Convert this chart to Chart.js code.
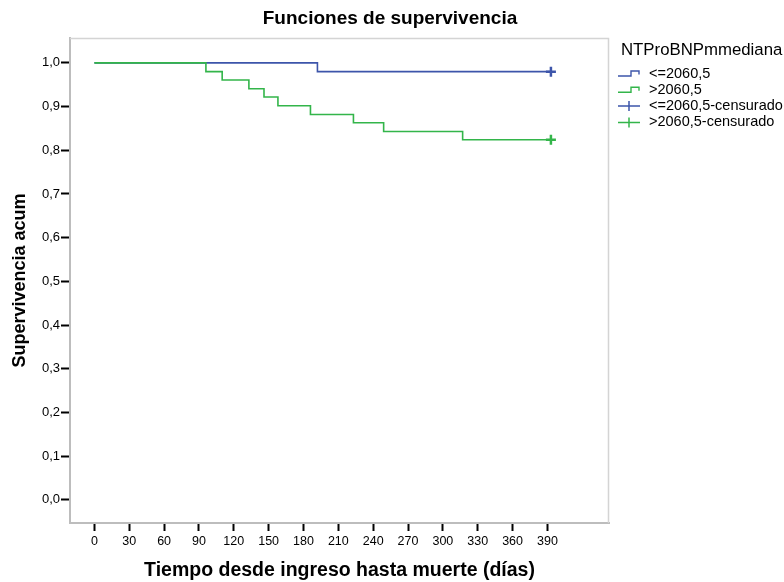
<!DOCTYPE html>
<html>
<head>
<meta charset="utf-8">
<script src="https://cdn.jsdelivr.net/npm/chart.js@4.4.1/dist/chart.umd.min.js"></script>
<style>
  html, body { margin: 0; padding: 0; background: #fff; }
  canvas { display: block; }
</style>
</head>
<body>
<canvas id="supervivencia" width="784" height="582"></canvas>
<script>
// Kaplan-Meier por grupo de NTProBNP (mediana 2060,5)
const diasBajo = [0, 192, 393];
const survBajo = [1, 0.98, 0.98];

const diasAlto = [0, 96, 110, 133, 146, 158, 186, 223, 249, 317, 393];
const survAlto = [1, 0.980, 0.961, 0.941, 0.922, 0.902, 0.882, 0.863, 0.843, 0.824, 0.824];

// casos censurados al final del seguimiento
const censDias = [393];
const censBajo = [0.98];
const censAlto = [0.824];

const xTicks = [0, 30, 60, 90, 120, 150, 180, 210, 240, 270, 300, 330, 360, 390];
const yTicks = [0, 0.1, 0.2, 0.3, 0.4, 0.5, 0.6, 0.7, 0.8, 0.9, 1.0];

const azul = '#3d55aa';
const verde = '#33b54a';
const fuente = "'Liberation Sans', Arial, sans-serif";

function puntos(xs, ys) {
  return xs.map((x, i) => ({ x: x, y: ys[i] }));
}

const marcoYLeyenda = {
  id: 'marcoYLeyenda',
  beforeDatasetsDraw(chart) {
    const { ctx, chartArea: a } = chart;
    ctx.save();
    ctx.strokeStyle = '#d4d4d4';
    ctx.lineWidth = 1.5;
    ctx.beginPath();
    ctx.moveTo(a.left, a.top + 0.5);
    ctx.lineTo(a.right - 0.5, a.top + 0.5);
    ctx.lineTo(a.right - 0.5, a.bottom);
    ctx.stroke();
    ctx.restore();
  },
  afterDraw(chart) {
    const ctx = chart.ctx;
    ctx.save();
    ctx.fillStyle = '#000';
    ctx.textBaseline = 'middle';

    ctx.font = 'bold 19px ' + fuente;
    ctx.textAlign = 'center';
    ctx.fillText('Funciones de supervivencia', 390, 19);

    ctx.textAlign = 'left';
    ctx.font = '16.8px ' + fuente;
    ctx.fillText('NTProBNPmmediana', 621, 50);

    ctx.font = '14.5px ' + fuente;
    chart.data.datasets.forEach((ds, i) => {
      const y = 73.5 + i * 16.3;
      ctx.strokeStyle = ds.borderColor;
      ctx.beginPath();
      if (ds.showLine === false) {
        ctx.lineWidth = 1.5;
        ctx.moveTo(618, y);
        ctx.lineTo(640, y);
        ctx.moveTo(629, y - 5);
        ctx.lineTo(629, y + 5);
      } else {
        ctx.lineWidth = 1.4;
        ctx.moveTo(618, y + 2.5);
        ctx.lineTo(631, y + 2.5);
        ctx.lineTo(631, y - 2.5);
        ctx.lineTo(639, y - 2.5);
        ctx.lineTo(639, y + 1);
      }
      ctx.stroke();
      ctx.fillText(ds.label, 649, y);
    });
    ctx.restore();
  }
};

new Chart(document.getElementById('supervivencia'), {
  type: 'line',
  data: {
    datasets: [
      {
        label: '<=2060,5',
        data: puntos(diasBajo, survBajo),
        borderColor: azul,
        borderWidth: 1.6,
        stepped: 'before',
        pointRadius: 0,
        fill: false,
        order: 2
      },
      {
        label: '>2060,5',
        data: puntos(diasAlto, survAlto),
        borderColor: verde,
        borderWidth: 1.6,
        stepped: 'before',
        pointRadius: 0,
        fill: false,
        order: 1
      },
      {
        label: '<=2060,5-censurado',
        data: puntos(censDias, censBajo),
        borderColor: azul,
        showLine: false,
        pointStyle: 'cross',
        pointRadius: 5,
        pointBorderWidth: 2.5,
        order: 0
      },
      {
        label: '>2060,5-censurado',
        data: puntos(censDias, censAlto),
        borderColor: verde,
        showLine: false,
        pointStyle: 'cross',
        pointRadius: 5,
        pointBorderWidth: 2.5,
        order: 0
      }
    ]
  },
  options: {
    responsive: false,
    animation: false,
    devicePixelRatio: 1,
    layout: { padding: { top: 38, right: 175, left: 0, bottom: 0 } },
    plugins: {
      legend: { display: false },
      tooltip: { enabled: false }
    },
    scales: {
      x: {
        type: 'linear',
        min: -21,
        max: 443,
        afterBuildTicks: (scale) => { scale.ticks = xTicks.map(v => ({ value: v })); },
        afterFit: (scale) => { scale.height = 59; },
        ticks: {
          color: '#000',
          font: { family: fuente, size: 12.5 },
          padding: 3,
          maxRotation: 0,
          callback: (v) => String(v)
        },
        grid: {
          drawOnChartArea: false,
          tickColor: '#000',
          tickWidth: 2,
          tickLength: 8
        },
        border: { color: '#bdbdbd', width: 2 },
        title: {
          display: true,
          text: 'Tiempo desde ingreso hasta muerte (días)',
          color: '#000',
          font: { family: fuente, size: 19.5, weight: 'bold' },
          padding: { top: 1, bottom: 0 }
        }
      },
      y: {
        type: 'linear',
        min: -0.053,
        max: 1.057,
        afterBuildTicks: (scale) => { scale.ticks = yTicks.map(v => ({ value: v })); },
        afterFit: (scale) => { scale.width = 70; },
        ticks: {
          color: '#000',
          font: { family: fuente, size: 13 },
          padding: 1,
          callback: (v) => v.toFixed(1).replace('.', ',')
        },
        grid: {
          drawOnChartArea: false,
          tickColor: '#000',
          tickWidth: 2,
          tickLength: 9
        },
        border: { color: '#bdbdbd', width: 2 },
        title: {
          display: true,
          text: 'Supervivencia acum',
          color: '#000',
          font: { family: fuente, size: 18, weight: 'bold' },
          padding: { top: 9, bottom: 0 }
        }
      }
    }
  },
  plugins: [marcoYLeyenda]
});
</script>
</body>
</html>
